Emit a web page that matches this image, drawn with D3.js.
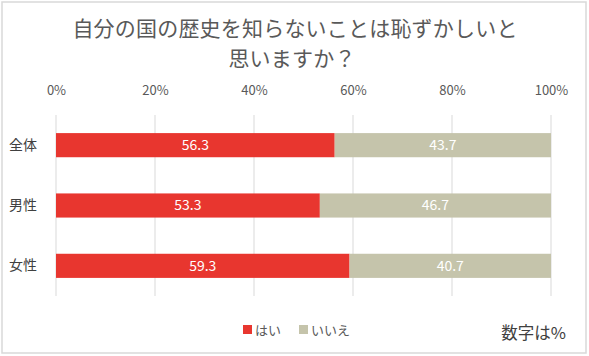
<!DOCTYPE html>
<html><head><meta charset="utf-8">
<script src="https://cdn.jsdelivr.net/npm/d3@7"></script>
<style>body{margin:0;background:#fff}svg{display:block}text{font-family:"Noto Sans CJK JP","Noto Sans",sans-serif}</style>
</head><body><svg id="c" width="589" height="356"></svg>
<script>
const categories = ["全体","男性","女性"];
const yesValues = [56.3, 53.3, 59.3];
const noValues = [43.7, 46.7, 40.7];
const seriesNames = ["はい","いいえ"];
const tickValues = [0,20,40,60,80,100];
const colors = ["#E8362F","#C5C4AB"];

const svg = d3.select("#c");
svg.append("rect").attr("x",2).attr("y",2).attr("width",584).attr("height",351)
  .attr("fill","#fff").attr("stroke","#d9d9d9").attr("stroke-width",1.5);

svg.append("text").attr("x",295).attr("y",36).attr("text-anchor","middle")
  .attr("font-size",21).attr("letter-spacing",0.2).attr("fill","#595959").text("自分の国の歴史を知らないことは恥ずかしいと");
svg.append("text").attr("x",292).attr("y",66).attr("text-anchor","middle")
  .attr("font-size",21).attr("letter-spacing",0.2).attr("fill","#595959").text("思いますか？");

const x = d3.scaleLinear().domain([0,100]).range([56,551]);
const y = d3.scaleBand().domain(categories).range([115,296]).paddingInner(0.6).paddingOuter(0.3);

// gridlines
svg.append("g").selectAll("line").data(tickValues).join("line")
  .attr("x1",d=>x(d)).attr("x2",d=>x(d)).attr("y1",115).attr("y2",296)
  .attr("stroke","#d9d9d9").attr("stroke-width",1);

const axis = d3.axisTop(x).tickValues(tickValues).tickFormat(d=>d+"%").tickSize(0);
const ag = svg.append("g").attr("transform","translate(0,98)").call(axis);
ag.select(".domain").remove();
ag.selectAll("text").attr("font-size",13).attr("fill","#595959")
  .style("font-family","'Noto Sans CJK JP',sans-serif");

const rows = categories.map((c,i)=>({c, yes:yesValues[i], no:noValues[i]}));

const g = svg.append("g");
g.selectAll(".yes").data(rows).join("rect")
  .attr("x",x(0)).attr("y",d=>y(d.c)).attr("width",d=>x(d.yes)-x(0)).attr("height",y.bandwidth())
  .attr("fill",colors[0]);
g.selectAll(".no").data(rows).join("rect")
  .attr("x",d=>x(d.yes)).attr("y",d=>y(d.c)).attr("width",d=>x(d.yes+d.no)-x(d.yes)).attr("height",y.bandwidth())
  .attr("fill",colors[1]);

g.selectAll(".ly").data(rows).join("text")
  .attr("x",d=>x(d.yes/2)).attr("y",d=>y(d.c)+y.bandwidth()/2).attr("dy","0.35em")
  .attr("text-anchor","middle").attr("font-size",14).attr("fill","#fff").text(d=>d.yes.toFixed(1));
g.selectAll(".ln").data(rows).join("text")
  .attr("x",d=>x(d.yes+d.no/2)).attr("y",d=>y(d.c)+y.bandwidth()/2).attr("dy","0.35em")
  .attr("text-anchor","middle").attr("font-size",14).attr("fill","#fff").text(d=>d.no.toFixed(1));

const yAxis = d3.axisLeft(y).tickSize(0);
const yg = svg.append("g").attr("transform","translate(40,0)").call(yAxis);
yg.select(".domain").remove();
yg.selectAll("text").attr("font-size",14).attr("fill","#404040")
  .style("font-family","'Noto Sans CJK JP',sans-serif");

// legend
const leg = svg.append("g");
const legX = [243, 299];
seriesNames.forEach((n,i)=>{
  leg.append("rect").attr("x",legX[i]).attr("y",325).attr("width",9).attr("height",9).attr("fill",colors[i]);
  leg.append("text").attr("x",legX[i]+12).attr("y",330).attr("dy","0.35em").attr("font-size",13)
    .attr("fill","#595959").text(n);
});

svg.append("text").attr("x",566).attr("y",333).attr("dy","0.35em").attr("text-anchor","end")
  .attr("font-size",16.5).attr("fill","#404040").text("数字は%");
</script></body></html>
